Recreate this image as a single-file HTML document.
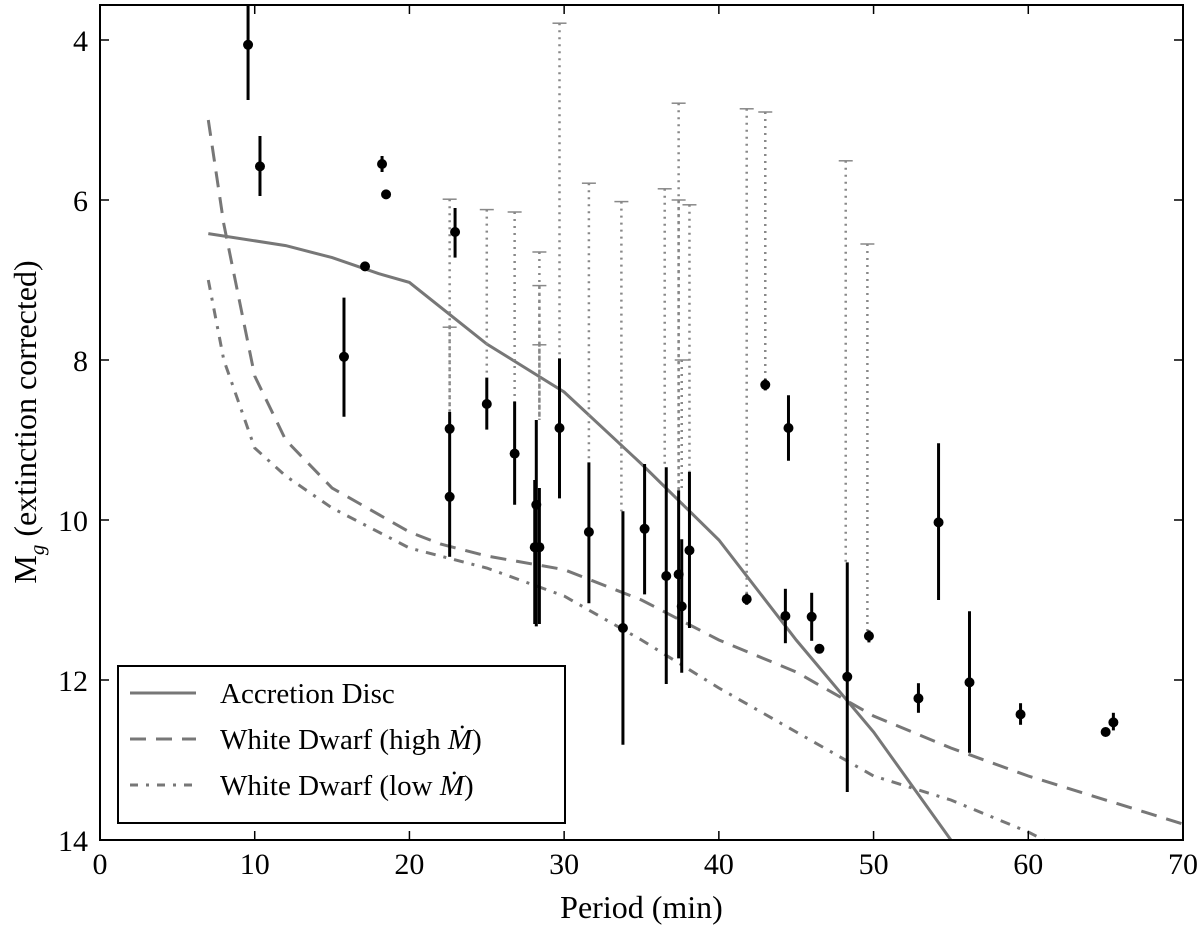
<!DOCTYPE html>
<html><head><meta charset="utf-8"><style>
html,body{margin:0;padding:0;background:#fff;}
svg{display:block;font-family:"Liberation Serif",serif;}
</style></head><body>
<svg id="chart" width="1200" height="932">
<g id="plot"></g>
</svg>
<script>
// ---- data ----
const xTicks=[0,10,20,30,40,50,60,70];
const yTicks=[4,6,8,10,12,14];
// detections: period, magnitude, error bar top (brighter), error bar bottom
const ptPeriod=[9.57,10.34,18.23,18.49,17.13,15.77,22.95,22.6,22.6,25.0,26.8,28.2,28.1,28.4,29.7,31.6,33.8,35.2,36.6,37.4,37.6,38.1,41.8,43.0,44.5,44.3,46.0,46.5,48.3,49.7,52.9,54.2,56.2,59.5,65.0,65.5];
const ptMag=[4.06,5.58,5.55,5.93,6.83,7.96,6.4,8.86,9.71,8.55,9.17,9.81,10.34,10.34,8.85,10.15,11.35,10.11,10.7,10.68,11.08,10.38,10.99,8.31,8.85,11.2,11.21,11.61,11.96,11.45,12.23,10.03,12.03,12.43,12.65,12.53];
const ptErrTop=[3.55,5.2,5.45,5.93,6.83,7.22,6.1,8.65,9.71,8.22,8.52,8.75,9.5,9.6,7.98,9.28,9.89,9.3,9.34,9.63,10.24,9.4,10.92,8.24,8.44,10.86,10.91,11.61,10.53,11.38,12.04,9.04,11.14,12.29,12.65,12.41];
const ptErrBot=[4.75,5.95,5.65,5.93,6.83,8.71,6.72,9.7,10.46,8.87,9.81,11.33,11.3,11.3,9.73,11.04,12.81,10.93,12.05,11.73,11.91,11.35,11.06,8.38,9.26,11.54,11.51,11.61,13.4,11.53,12.41,11.0,12.91,12.56,12.65,12.63];
// limits: period, limit magnitude (cap), dotted line lower end
const limPeriod=[22.6,22.6,25.0,26.8,28.4,28.4,28.4,29.7,31.6,33.7,36.5,37.4,37.4,37.6,38.1,41.8,43.0,48.2,49.6];
const limCap=[5.99,7.59,6.12,6.15,6.65,7.07,7.81,3.79,5.79,6.02,5.86,4.79,6.0,8.0,6.06,4.86,4.9,5.51,6.55];
const limEnd=[8.65,8.65,8.22,8.52,8.75,8.75,8.75,7.98,9.28,9.89,9.34,9.63,9.63,9.63,9.4,10.99,8.31,10.53,11.45];
const discP=[7,12,15,18,20,25,30,35,40,45,50,55];
const discM=[6.42,6.57,6.72,6.92,7.03,7.8,8.4,9.3,10.25,11.5,12.65,14.0];
const highP=[7,8,10,12,15,20,22,25,30,35,40,45,50,55,60,70];
const highM=[5.0,6.3,8.2,9.0,9.6,10.15,10.3,10.45,10.62,11.0,11.5,11.9,12.45,12.85,13.2,13.8];
const lowP=[7,8,10,12,15,20,25,30,35,40,45,50,55,60,61];
const lowM=[7.0,8.0,9.1,9.45,9.85,10.35,10.6,10.95,11.5,12.1,12.65,13.2,13.5,13.9,14.0];

// ---- axes ----
const L=100,R=1183,T=5,B=840;
const X=v=>L+(v-0)/70*(R-L);
const Y=v=>40+(v-4)*80;
const NS="http://www.w3.org/2000/svg";
const g=document.getElementById('plot');
function el(tag,attrs,parent){const e=document.createElementNS(NS,tag);for(const k in attrs)e.setAttribute(k,attrs[k]);(parent||g).appendChild(e);return e;}

const clip=el('clipPath',{id:'clp'});el('rect',{x:L,y:T,width:R-L,height:B-T},clip);
const inner=el('g',{'clip-path':'url(#clp)'});



function line(P,M,dash,name){
  let d='';P.forEach((p,i)=>{d+=(i?'L':'M')+X(p).toFixed(1)+','+Y(M[i]).toFixed(1);});
  const e=el('path',{d:d,fill:'none',stroke:'#777',"stroke-width":3,"stroke-dasharray":dash},inner);
  
  
}
line(discP,discM,'none','accretion-disc-line');
line(highP,highM,'16,10','white-dwarf-high-line');
line(lowP,lowM,'10,8,3,8','white-dwarf-low-line');

limPeriod.forEach((p,i)=>{
  const d=el('line',{x1:X(p),x2:X(p),y1:Y(limCap[i]),y2:Y(limEnd[i]),stroke:'#888',"stroke-width":2.5,"stroke-dasharray":'2,5'},inner);
  
  
  const c=el('line',{x1:X(p)-7,x2:X(p)+7,y1:Y(limCap[i]),y2:Y(limCap[i]),stroke:'#888',"stroke-width":1.5},inner);
  
  
});
ptPeriod.forEach((p,i)=>{
  const b=el('line',{x1:X(p),x2:X(p),y1:Y(ptErrTop[i]),y2:Y(ptErrBot[i]),stroke:'#000',"stroke-width":3},inner);
  
  
  const c=el('circle',{cx:X(p),cy:Y(ptMag[i]),r:5,fill:'#000'},inner);
  
  
});

// frame
const fr=el('rect',{x:L,y:T,width:R-L,height:B-T,fill:'none',stroke:'#000',"stroke-width":2});


xTicks.forEach(t=>{
  el('line',{x1:X(t),x2:X(t),y1:B,y2:B-9,stroke:'#000',"stroke-width":1.5});
  el('line',{x1:X(t),x2:X(t),y1:T,y2:T+9,stroke:'#000',"stroke-width":1.5});
  const tx=el('text',{x:X(t),y:B+34,"font-size":30,"text-anchor":'middle'});
  tx.textContent=t;
  
  
});
yTicks.forEach(t=>{
  el('line',{x1:L,x2:L+9,y1:Y(t),y2:Y(t),stroke:'#000',"stroke-width":1.5});
  el('line',{x1:R,x2:R-9,y1:Y(t),y2:Y(t),stroke:'#000',"stroke-width":1.5});
  const tx=el('text',{x:L-12,y:Y(t)+11,"font-size":30,"text-anchor":'end'});
  tx.textContent=t;
  
  
});
const xt=el('text',{x:(L+R)/2,y:918,"font-size":32,"text-anchor":'middle'});
xt.textContent='Period (min)';


const yt=el('text',{transform:'translate(36,422) rotate(-90)',"font-size":32,"text-anchor":'middle'});
yt.innerHTML='M<tspan font-size="21" font-style="italic" dy="8">g</tspan><tspan dy="-8"> (extinction corrected)</tspan>';



// legend
const lg=el('g',{});


el('rect',{x:118,y:666,width:447,height:157,fill:'#fff',stroke:'#000',"stroke-width":2},lg);
const entries=[['Accretion Disc','none',''],['White Dwarf (high ','16,10','M'],['White Dwarf (low ','8,8,3,8','M']];
entries.forEach((e,i)=>{
  const y=693+i*46;
  const en=el('g',{},lg);
  
  
  el('line',{x1:130,x2:196,y1:y,y2:y,stroke:'#777',"stroke-width":3,"stroke-dasharray":e[1]},en);
  const t=el('text',{x:220,y:y+10,"font-size":29},en);
  t.textContent=e[0];
  if(e[2]){const m=el('tspan',{"font-style":'italic'},t);m.textContent='Ṁ';const c=el('tspan',{},t);c.textContent=')';}
});
</script>
</body></html>
